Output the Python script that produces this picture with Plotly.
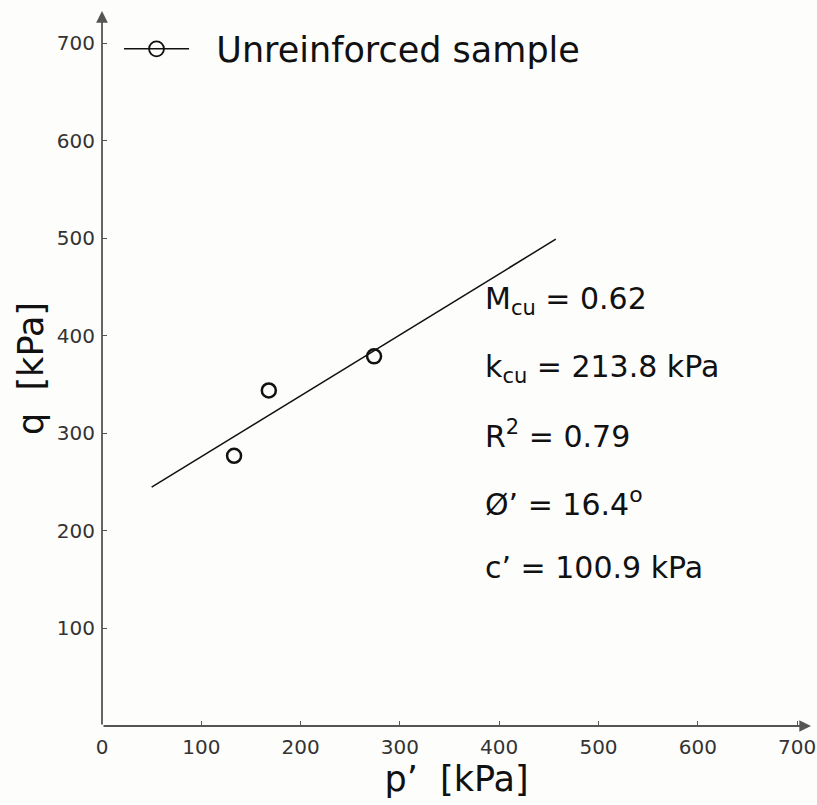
import plotly.graph_objects as go

# Data
p_data = [133, 168, 274]          # p' [kPa]
q_data = [277, 344, 379]          # q [kPa]
p_fit = [50, 457]                 # fitted line end points
q_fit = [244.8, 499.1]

x_ticks = [0, 100, 200, 300, 400, 500, 600, 700]
y_ticks = [100, 200, 300, 400, 500, 600, 700]

stats_text = [
    "M<sub>cu</sub> = 0.62",
    "k<sub>cu</sub> = 213.8 kPa",
    "R<sup>2</sup> = 0.79",
    "Ø’ = 16.4<sup><span style='font-size:22px'>o</span></sup>",
    "c’ = 100.9 kPa",
]
stats_y = [436, 367, 299, 230, 162]

FONT = "DejaVu Sans, Arial, sans-serif"
AX = "#555555"
INK = "#111111"

fig = go.Figure()
fig.add_trace(go.Scatter(
    x=p_fit, y=q_fit, mode="lines", showlegend=False,
    line=dict(color=INK, width=1.5), hoverinfo="skip"))
fig.add_trace(go.Scatter(
    x=p_data, y=q_data, mode="markers", showlegend=False,
    marker=dict(symbol="circle-open", size=14, color=INK,
                line=dict(width=2.5, color=INK))))
# legend entry (line + open circle)
fig.add_trace(go.Scatter(
    x=[None], y=[None], mode="lines+markers",
    name="\u00a0\u00a0Unreinforced sample",
    line=dict(color=INK, width=1.5),
    marker=dict(symbol="circle-open", size=15, color=INK,
                line=dict(width=1.8, color=INK))))

X_MAX, Y_MAX = 714, 733

annotations = []
for t, yy in zip(stats_text, stats_y):
    annotations.append(dict(x=384, y=yy, xref="x", yref="y", text=t,
                            showarrow=False, xanchor="left", yanchor="middle",
                            font=dict(family=FONT, size=30, color=INK)))
# axis arrows
annotations.append(dict(x=X_MAX, y=0, ax=0, ay=0, xref="x", yref="y",
                        axref="x", ayref="y", text="", showarrow=True,
                        arrowhead=2, arrowsize=1.3, arrowwidth=1.8, arrowcolor=AX))
annotations.append(dict(x=0, y=Y_MAX, ax=0, ay=0, xref="x", yref="y",
                        axref="x", ayref="y", text="", showarrow=True,
                        arrowhead=2, arrowsize=1.3, arrowwidth=1.8, arrowcolor=AX))

fig.update_layout(
    width=817, height=805,
    margin=dict(l=102, r=1, t=11, b=79),
    paper_bgcolor="#fdfdfc", plot_bgcolor="#fdfdfc",
    font=dict(family=FONT, color="#333333"),
    showlegend=True,
    legend=dict(x=0.024, y=0.988, xanchor="left", yanchor="top",
                bgcolor="rgba(0,0,0,0)", font=dict(family=FONT, size=35, color=INK),
                itemwidth=65),
    annotations=annotations,
    xaxis=dict(range=[0, X_MAX], tickmode="array", tickvals=x_ticks,
               ticks="inside", ticklen=5, tickwidth=1.2, tickcolor=AX,
               showgrid=False, zeroline=False, showline=False,
               ticklabeloverflow="allow", ticklabelstandoff=7,
               tickfont=dict(family=FONT, size=20, color="#333333"),
               title=dict(text="p’  [kPa]", font=dict(family=FONT, size=35, color=INK), standoff=6)),
    yaxis=dict(range=[0, Y_MAX], tickmode="array", tickvals=y_ticks,
               ticks="inside", ticklen=5, tickwidth=1.2, tickcolor=AX,
               showgrid=False, zeroline=False, showline=False,
               ticklabelstandoff=6,
               tickfont=dict(family=FONT, size=20, color="#333333"),
               title=dict(text="q  [kPa]", font=dict(family=FONT, size=35, color=INK), standoff=2)),
)

fig.write_html("out.html")
